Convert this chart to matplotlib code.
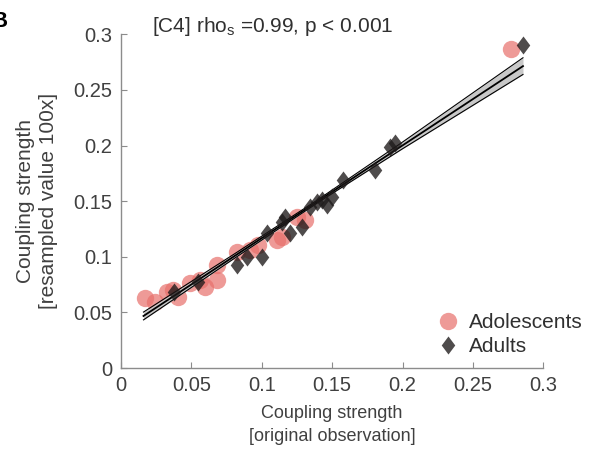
import matplotlib
matplotlib.use("Agg")
import matplotlib.pyplot as plt
import numpy as np
from matplotlib.path import Path

plt.rcParams["font.family"] = ["Liberation Sans", "DejaVu Sans"]
plt.rcParams["mathtext.fontset"] = "custom"
plt.rcParams["mathtext.rm"] = "Liberation Sans"

# coupling strength: original observation vs resampled value (100x)
teen_orig = [0.0170, 0.0241, 0.0327, 0.0369, 0.0405, 0.0490, 0.0561, 0.0597, 0.0682,
             0.0682, 0.0824, 0.0916, 0.0973, 0.1108, 0.1143, 0.1250, 0.1307, 0.2770]
teen_resamp = [0.0629, 0.0593, 0.0683, 0.0701, 0.0638, 0.0764, 0.0791, 0.0728, 0.0791,
               0.0925, 0.1042, 0.1060, 0.1105, 0.1150, 0.1177, 0.1357, 0.1330, 0.2866]

adult_orig = [0.0376, 0.0547, 0.0824, 0.0895, 0.1001, 0.1037, 0.1143, 0.1165, 0.1200, 0.1286,
              0.1342, 0.1392, 0.1428, 0.1463, 0.1499, 0.1577, 0.1804, 0.1911, 0.1946, 0.2855]
adult_resamp = [0.0683, 0.0773, 0.0925, 0.0997, 0.0997, 0.1213, 0.1312, 0.1357, 0.1213, 0.1267,
                0.1447, 0.1491, 0.1509, 0.1465, 0.1536, 0.1689, 0.1779, 0.1986, 0.2022, 0.2902]

# regression line and its confidence band
fit_slope = 0.833
fit_intercept = 0.0335
band_x = [0.016, 0.08, 0.14, 0.20, 0.2855]
band_half = [0.0035, 0.0020, 0.0013, 0.0030, 0.0075]

ticks = [0, 0.05, 0.1, 0.15, 0.2, 0.25, 0.3]
tick_labels = ["0", "0.05", "0.1", "0.15", "0.2", "0.25", "0.3"]

TEEN_COL = "#e8706b"
ADULT_COL = "#1e1a1a"
GREY = "#8c8c8c"
TXT = "#404040"

# slightly tall diamond, like the MATLAB 'd' marker
diamond = Path([(0, 1), (0.75, 0), (0, -1), (-0.75, 0), (0, 1)],
               [Path.MOVETO, Path.LINETO, Path.LINETO, Path.LINETO, Path.CLOSEPOLY])

fig = plt.figure(figsize=(5.9, 4.5), dpi=100)
ax = fig.add_axes([0.205, 0.182, 0.716, 0.742])

ax.plot(teen_orig, teen_resamp, "o", ls="none", ms=12.5, color=TEEN_COL,
        alpha=0.7, mec="none", label="Adolescents", zorder=2)

bx = np.array(band_x)
by = fit_intercept + fit_slope * bx
bh = np.array(band_half)
ax.fill_between(bx, by - bh, by + bh, color="#c8c8c8", lw=0, zorder=3)
ax.plot(bx, by - bh, color="k", lw=0.8, zorder=3)
ax.plot(bx, by + bh, color="k", lw=0.8, zorder=3)
ax.plot(bx, by, color="k", lw=1.3, zorder=3)

ax.plot(adult_orig, adult_resamp, marker=diamond, ls="none", ms=13, color=ADULT_COL,
        alpha=0.78, mec="none", label="Adults", zorder=4)

ax.set_xlim(0, 0.3)
ax.set_ylim(0, 0.3)
ax.set_xticks(ticks)
ax.set_xticklabels(tick_labels)
ax.set_yticks(ticks)
ax.set_yticklabels(tick_labels)
for side in ("top", "right"):
    ax.spines[side].set_visible(False)
for side in ("left", "bottom"):
    ax.spines[side].set_color(GREY)
    ax.spines[side].set_linewidth(1.0)
ax.tick_params(direction="in", length=4, width=0.8, color=GREY,
               labelcolor=TXT, labelsize=14.5, pad=6)

ax.set_xlabel("Coupling strength\n[original observation]", fontsize=13, color=TXT,
              labelpad=7, linespacing=1.45)
ax.set_ylabel("Coupling strength\n[resampled value 100x]", fontsize=15, color=TXT,
              labelpad=11, linespacing=1.3)

fig.text(0.2576, 0.942, r"[C4] rho$_\mathrm{s}$ =0.99, p < 0.001",
         fontsize=15, color="#303030", va="center")
fig.text(-0.014, 0.975, "B", fontsize=16, fontweight="bold", va="top", color="k")

leg = ax.legend(loc="upper left", bbox_to_anchor=(438 / 590, 1 - 313 / 450),
                bbox_transform=fig.transFigure, frameon=False, fontsize=15,
                handlelength=1.0, handletextpad=0.5, labelspacing=0.25,
                borderpad=0, borderaxespad=0)
for t in leg.get_texts():
    t.set_color("#303030")

fig.savefig("out.png", dpi=100)
